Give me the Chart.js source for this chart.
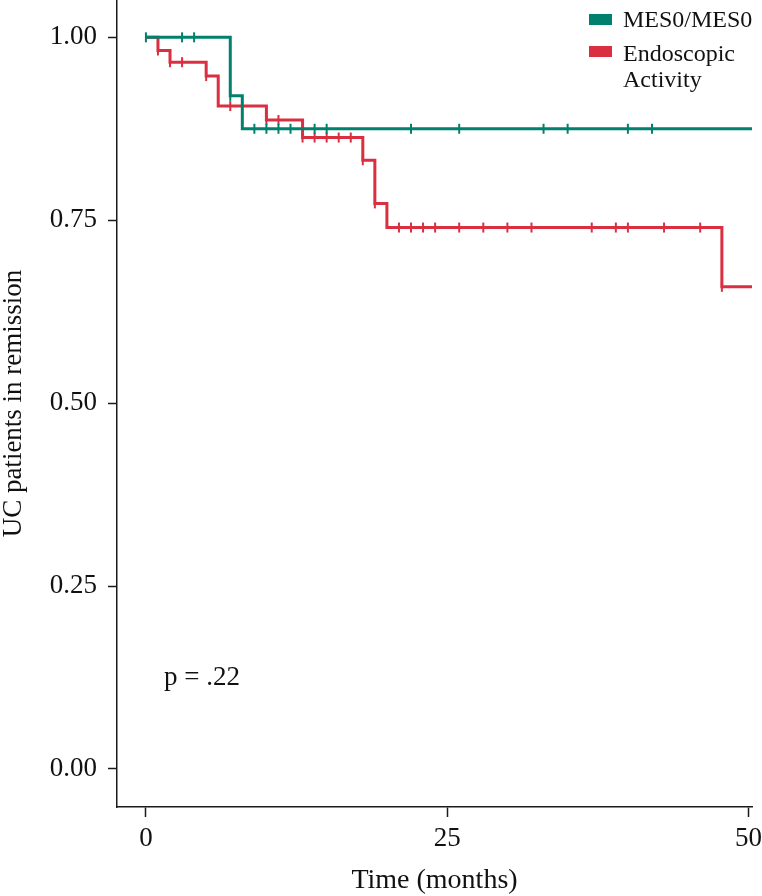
<!DOCTYPE html>
<html>
<head>
<meta charset="utf-8">
<script src="https://cdn.jsdelivr.net/npm/chart.js@4.4.1/dist/chart.umd.min.js"></script>
<style>
  body { margin: 0; background: #fff; }
  canvas { display: block; }
</style>
</head>
<body>
<canvas id="kmChart" width="762" height="896"></canvas>
<script>
// Kaplan-Meier steps (time in months, survival)
const greenTimes = [0, 7, 8, 50.3];
const greenSurv = [1, 0.92, 0.875, 0.875];
const greenCensor = [0, 3, 4, 7, 9, 10, 11, 12, 14, 15, 22, 26, 33, 35, 40, 42];

const redTimes = [0, 1, 2, 5, 6, 10, 13, 18, 19, 20, 47.8, 50.3];
const redSurv = [1, 0.982, 0.966, 0.947, 0.906, 0.887, 0.863, 0.832, 0.773, 0.74, 0.659, 0.659];
const redCensor = [1, 2, 3, 5, 7, 10, 11, 13, 14, 15, 16, 17, 18, 19, 21, 22, 23, 24, 26, 28, 30, 32, 37, 39, 40, 43, 46, 47.8];

const xTicks = [0, 25, 50];
const yTicks = [0, 0.25, 0.5, 0.75, 1];

const groupNames = ["MES0/MES0", ["Endoscopic", "Activity"]];
const pText = "p = .22";

const GREEN = "#00816d";
const RED = "#d92f40";
const AXIS = "#1a1a1a";
const FONT = '"Liberation Serif", "Times New Roman", serif';

// survival level at time t from a step curve
function levelAt(times, surv, t) {
    let s = surv[0];
    for (let i = 0; i < times.length; i++) {
        if (times[i] <= t) s = surv[i];
    }
    return s;
}

const toPoints = (xs, ys) => xs.map((x, i) => ({ x: x, y: ys[i] }));
const censorPoints = (cs, times, surv) => cs.map(t => ({ x: t, y: levelAt(times, surv, t) }));

const censorStyle = {
    showLine: false,
    pointStyle: "line",
    rotation: 90,
    pointRadius: 5,
    pointBorderWidth: 2
};

// no extra room for overflowing tick labels, the plot runs to the canvas top
function noPadding(s) {
    s.paddingTop = 0;
    s.paddingBottom = 0;
    s.paddingLeft = 0;
    s.paddingRight = 0;
}

// legend + p value, drawn as text on the canvas
const annotations = {
    id: "annotations",
    afterDraw(chart) {
        const ctx = chart.ctx;
        const x = chart.scales.x, y = chart.scales.y;
        ctx.save();
        ctx.fillStyle = GREEN;
        ctx.fillRect(589, 14, 23, 11);
        ctx.fillStyle = RED;
        ctx.fillRect(589, 46, 23, 11);

        ctx.fillStyle = "#111";
        ctx.font = "24px " + FONT;
        ctx.textBaseline = "alphabetic";
        ctx.textAlign = "left";
        ctx.fillText(groupNames[0], 623, 27);
        ctx.fillText(groupNames[1][0], 623, 61);
        ctx.fillText(groupNames[1][1], 623, 87);

        ctx.font = "27px " + FONT;
        ctx.fillText(pText, x.getPixelForValue(1.5), y.getPixelForValue(0.115));
        ctx.restore();
    }
};

new Chart(document.getElementById("kmChart"), {
    type: "scatter",
    data: {
        datasets: [
            {
                label: "MES0/MES0",
                data: toPoints(greenTimes, greenSurv),
                showLine: true,
                stepped: "before",
                borderColor: GREEN,
                borderWidth: 3,
                pointRadius: 0
            },
            {
                label: "Endoscopic Activity",
                data: toPoints(redTimes, redSurv),
                showLine: true,
                stepped: "before",
                borderColor: RED,
                borderWidth: 3,
                pointRadius: 0
            },
            Object.assign({
                label: "censor green",
                data: censorPoints(greenCensor, greenTimes, greenSurv),
                borderColor: GREEN,
                backgroundColor: GREEN
            }, censorStyle),
            Object.assign({
                label: "censor red",
                data: censorPoints(redCensor, redTimes, redSurv),
                borderColor: RED,
                backgroundColor: RED
            }, censorStyle)
        ]
    },
    options: {
        responsive: false,
        animation: false,
        layout: { autoPadding: false, padding: { top: 0, right: 10, left: 0, bottom: 0 } },
        plugins: {
            legend: { display: false },
            tooltip: { enabled: false }
        },
        scales: {
            x: {
                type: "linear",
                min: -2.4,
                max: 50.3,
                afterBuildTicks: s => { s.ticks = xTicks.map(v => ({ value: v })); },
                afterFit: s => { s.height = 89; noPadding(s); },
                grid: { drawOnChartArea: false, drawTicks: true, tickLength: 10, tickWidth: 1.5, tickColor: AXIS },
                border: { display: true, color: AXIS, width: 1.5 },
                ticks: { color: "#111", font: { family: FONT, size: 27 }, padding: 6, maxRotation: 0 },
                title: {
                    display: true,
                    text: "Time (months)",
                    color: "#111",
                    font: { family: FONT, size: 28, lineHeight: 1 },
                    padding: { top: 0, bottom: 1 }
                }
            },
            y: {
                type: "linear",
                min: -0.052,
                max: 1.051,
                afterBuildTicks: s => { s.ticks = yTicks.map(v => ({ value: v })); },
                afterFit: s => { s.width = 117; noPadding(s); },
                grid: { drawOnChartArea: false, drawTicks: true, tickLength: 9, tickWidth: 1.5, tickColor: AXIS },
                border: { display: true, color: AXIS, width: 1.5 },
                ticks: {
                    color: "#111",
                    font: { family: FONT, size: 27 },
                    padding: 11,
                    callback: v => v.toFixed(2)
                },
                title: {
                    display: true,
                    text: "UC patients in remission",
                    color: "#111",
                    font: { family: FONT, size: 27, lineHeight: 1 },
                    padding: { top: 0, bottom: 0 }
                }
            }
        }
    },
    plugins: [annotations]
});
</script>
</body>
</html>
